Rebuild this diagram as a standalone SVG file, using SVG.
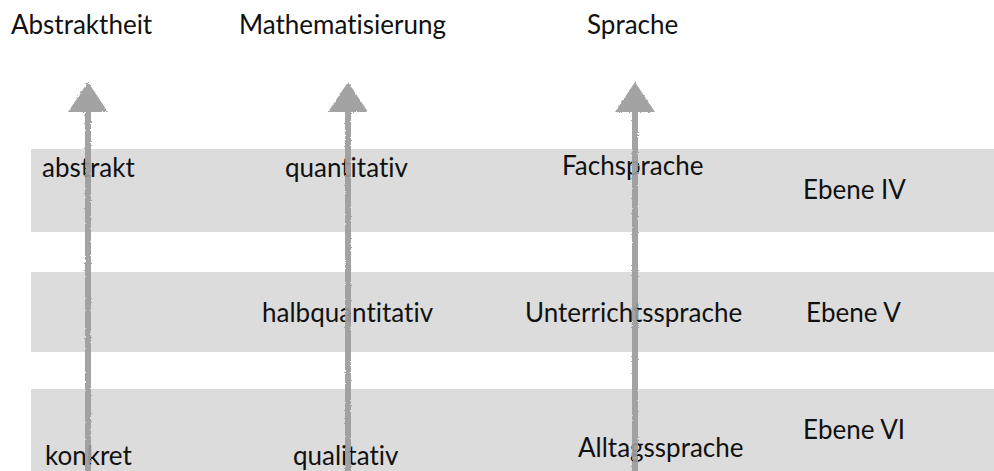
<svg xmlns="http://www.w3.org/2000/svg" width="994" height="471" viewBox="0 0 994 471">
  <defs>
    <style>
      .band { fill: #dcdcdc; }
      .t { font-family: Lato, "Open Sans", "Liberation Sans", sans-serif; font-size: 26px; fill: #111; font-variant-ligatures: none; }
      .arrow { fill: #9b9b9b; opacity: 0.92; }
    </style>
    <filter id="rough" x="-20%" y="-5%" width="140%" height="110%">
      <feTurbulence type="fractalNoise" baseFrequency="0.6" numOctaves="2" seed="3" result="n"/>
      <feDisplacementMap in="SourceGraphic" in2="n" scale="2.5" xChannelSelector="R" yChannelSelector="G"/>
    </filter>
  </defs>
  <rect width="994" height="471" fill="#fff"/>

  <g id="headings">
    <text class="t" x="11" y="34">Abstraktheit</text>
    <text class="t" x="239" y="34">Mathematisierung</text>
    <text class="t" x="587" y="34">Sprache</text>
  </g>

  <g id="ebene-iv">
    <rect class="band" x="31" y="149" width="963" height="83"/>
    <text class="t" x="42" y="177">abstrakt</text>
    <text class="t" x="285" y="177">quantitativ</text>
    <text class="t" x="562" y="175">Fachsprache</text>
    <text class="t" x="803" y="199">Ebene IV</text>
  </g>

  <g id="ebene-v">
    <rect class="band" x="31" y="272" width="963" height="80"/>
    <text class="t" x="262" y="322">halbquantitativ</text>
    <text class="t" x="525" y="322">Unterrichtssprache</text>
    <text class="t" x="806" y="322">Ebene V</text>
  </g>

  <g id="ebene-vi">
    <rect class="band" x="31" y="389" width="963" height="82"/>
    <text class="t" x="45" y="465">konkret</text>
    <text class="t" x="293" y="465">qualitativ</text>
    <text class="t" x="578" y="457">Alltagssprache</text>
    <text class="t" x="803" y="439">Ebene VI</text>
  </g>

  <g id="connectors" filter="url(#rough)">
    <path class="arrow" d="M88 82 L108 112 L91 112 L91 471 L85 471 L85 112 L68 112 Z"/>
    <path class="arrow" d="M348 82 L368 112 L351 112 L351 471 L345 471 L345 112 L328 112 Z"/>
    <path class="arrow" d="M635 82 L655 112 L638 112 L638 471 L632 471 L632 112 L615 112 Z"/>
  </g>
</svg>
